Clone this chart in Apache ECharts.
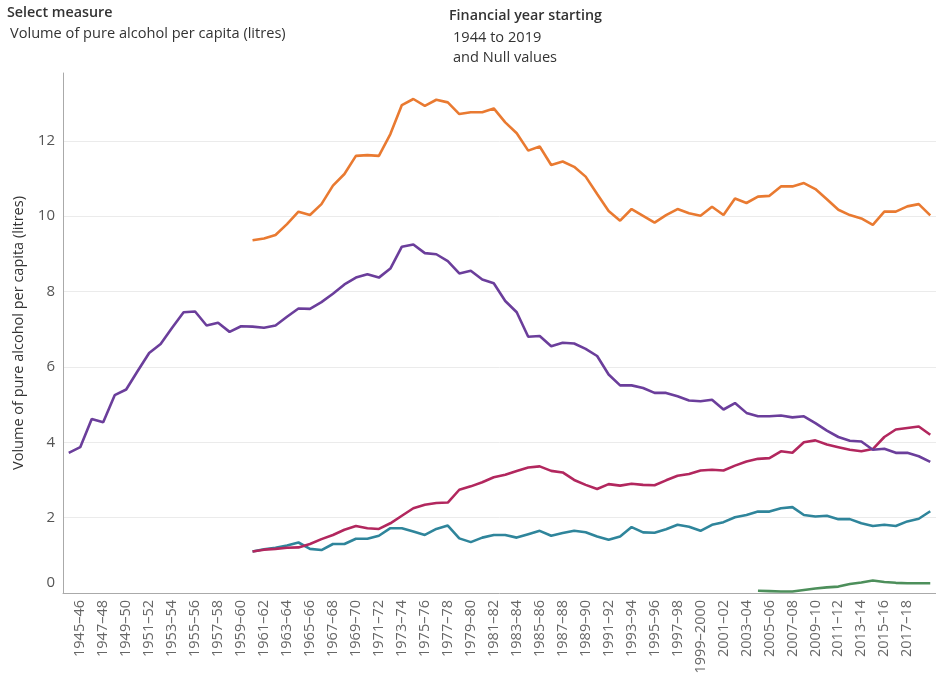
<!DOCTYPE html>
<html><head><meta charset="utf-8">
<script src="https://cdn.jsdelivr.net/npm/echarts@6/dist/echarts.min.js"></script>
<style>html,body{margin:0;padding:0;background:#fff}#c{width:936px;height:678px}</style>
</head><body><div id="c"></div><script>
const categories = ["1944–45","1945–46","1946–47","1947–48","1948–49","1949–50","1950–51","1951–52","1952–53","1953–54",
"1954–55","1955–56","1956–57","1957–58","1958–59","1959–60","1960–61","1961–62","1962–63","1963–64",
"1964–65","1965–66","1966–67","1967–68","1968–69","1969–70","1970–71","1971–72","1972–73","1973–74",
"1974–75","1975–76","1976–77","1977–78","1978–79","1979–80","1980–81","1981–82","1982–83","1983–84",
"1984–85","1985–86","1986–87","1987–88","1988–89","1989–90","1990–91","1991–92","1992–93","1993–94",
"1994–95","1995–96","1996–97","1997–98","1998–99","1999–2000","2000–01","2001–02","2002–03","2003–04",
"2004–05","2005–06","2006–07","2007–08","2008–09","2009–10","2010–11","2011–12","2012–13","2013–14",
"2014–15","2015–16","2016–17","2017–18","2018–19","2019–20"];

const yTicks = [0, 2, 4, 6, 8, 10, 12];

const N16 = Array(16).fill(null);
const N60 = Array(60).fill(null);

const allBeverages = N16.concat([
9.36,9.41,9.50,9.79,10.12,10.03,10.32,10.81,11.12,11.60,
11.62,11.60,12.18,12.95,13.11,12.93,13.09,13.02,12.71,12.76,
12.76,12.86,12.49,12.20,11.74,11.85,11.36,11.45,11.31,11.05,
10.59,10.14,9.88,10.19,10.01,9.83,10.03,10.19,10.08,10.01,
10.25,10.03,10.47,10.35,10.52,10.54,10.79,10.79,10.88,10.72,
10.45,10.17,10.03,9.94,9.77,10.12,10.12,10.26,10.32,10.02]);

const beer = [
3.72,3.87,4.62,4.53,5.25,5.40,5.89,6.37,6.61,7.04,
7.45,7.47,7.10,7.17,6.93,7.08,7.07,7.04,7.10,7.33,
7.55,7.54,7.72,7.94,8.19,8.37,8.46,8.37,8.61,9.19,
9.25,9.02,8.99,8.81,8.48,8.55,8.32,8.22,7.75,7.45,
6.80,6.82,6.55,6.64,6.62,6.48,6.29,5.80,5.51,5.51,
5.44,5.31,5.31,5.22,5.11,5.09,5.13,4.87,5.04,4.78,
4.69,4.69,4.71,4.66,4.69,4.51,4.31,4.14,4.04,4.02,
3.80,3.83,3.72,3.72,3.63,3.48];

const wine = N16.concat([
1.10,1.15,1.17,1.20,1.21,1.30,1.43,1.54,1.68,1.78,
1.72,1.70,1.85,2.05,2.25,2.34,2.39,2.40,2.74,2.83,
2.94,3.07,3.14,3.24,3.33,3.36,3.24,3.20,3.00,2.87,
2.76,2.89,2.85,2.90,2.87,2.86,2.99,3.11,3.16,3.25,
3.27,3.25,3.38,3.49,3.56,3.58,3.76,3.72,4.00,4.05,
3.94,3.87,3.80,3.76,3.82,4.14,4.34,4.38,4.42,4.20]);

const spirits = N16.concat([
1.10,1.16,1.20,1.26,1.34,1.17,1.14,1.30,1.30,1.44,
1.44,1.52,1.72,1.72,1.63,1.54,1.70,1.79,1.45,1.35,
1.47,1.54,1.54,1.47,1.56,1.65,1.52,1.59,1.65,1.61,
1.50,1.41,1.50,1.75,1.61,1.60,1.69,1.81,1.76,1.65,
1.81,1.88,2.01,2.07,2.16,2.16,2.25,2.28,2.07,2.03,
2.05,1.96,1.96,1.85,1.78,1.81,1.78,1.90,1.97,2.17]);

const rtd = N60.concat([
0.06,0.05,0.04,0.04,0.08,0.12,0.15,0.17,0.24,0.28,
0.33,0.29,0.27,0.26,0.26,0.26]);

const FONT = '"Open Sans", "Noto Sans", sans-serif';
const chart = echarts.init(document.getElementById('c'), null, {renderer: 'canvas'});

function mk(name, data, color) {
  return {name, type: 'line', data, symbol: 'none', smooth: false, connectNulls: false,
    lineStyle: {color, width: 2.6}, itemStyle: {color}};
}

chart.setOption({
  animation: false,
  backgroundColor: '#ffffff',
  textStyle: {fontFamily: FONT},
  graphic: [
    {type: 'text', left: 7, top: 6, style: {text: 'Select measure', font: '600 14.3px ' + FONT, fill: '#333'}},
    {type: 'text', left: 10, top: 26, style: {text: 'Volume of pure alcohol per capita (litres)', font: '14.6px ' + FONT, fill: '#333'}},
    {type: 'text', left: 449, top: 9, style: {text: 'Financial year starting', font: '600 14.3px ' + FONT, fill: '#333'}},
    {type: 'text', left: 453, top: 30, style: {text: '1944 to 2019', font: '14.6px ' + FONT, fill: '#333'}},
    {type: 'text', left: 453, top: 50, style: {text: 'and Null values', font: '14.6px ' + FONT, fill: '#333'}}
  ],
  grid: {left: 63, top: 73, right: -9, bottom: 85, containLabel: false},
  xAxis: {
    type: 'category', data: categories, boundaryGap: true,
    axisLine: {show: true, lineStyle: {color: '#aaaaaa', width: 1}},
    axisTick: {show: false},
    axisLabel: {rotate: 90, margin: 7, fontSize: 14.5, color: '#666', fontFamily: FONT,
      interval: (i) => i % 2 === 1 && i < 75}
  },
  yAxis: {
    type: 'value', min: 0, max: 13.8, interval: 2,
    name: 'Volume of pure alcohol per capita (litres)', nameLocation: 'middle', nameGap: 37,
    nameTextStyle: {fontSize: 14.5, color: '#333', fontFamily: FONT},
    axisLine: {show: true, lineStyle: {color: '#aaaaaa', width: 1}},
    axisTick: {show: false},
    splitLine: {show: true, lineStyle: {color: ['#ebebeb','#ebebeb','#ebebeb','#ebebeb','#ebebeb','#ebebeb','#ebebeb','rgba(0,0,0,0)'], width: 1}},
    axisLabel: {fontSize: 15, color: '#555', margin: 8, fontFamily: FONT,
      formatter: (v) => v === 0 ? '{z|0}' : (yTicks.indexOf(v) >= 0 ? String(v) : ''),
      rich: {z: {fontSize: 15, color: '#555', fontFamily: FONT, padding: [0, 0, 20, 0]}}}
  },
  series: [
    mk('All beverages', allBeverages, '#e97a31'),
    mk('Spirits', spirits, '#2f859b'),
    mk('Wine', wine, '#b2275e'),
    mk('Beer', beer, '#6b3e9b'),
    mk('Ready-to-drink', rtd, '#4d8f5b')
  ]
});
</script></body></html>
